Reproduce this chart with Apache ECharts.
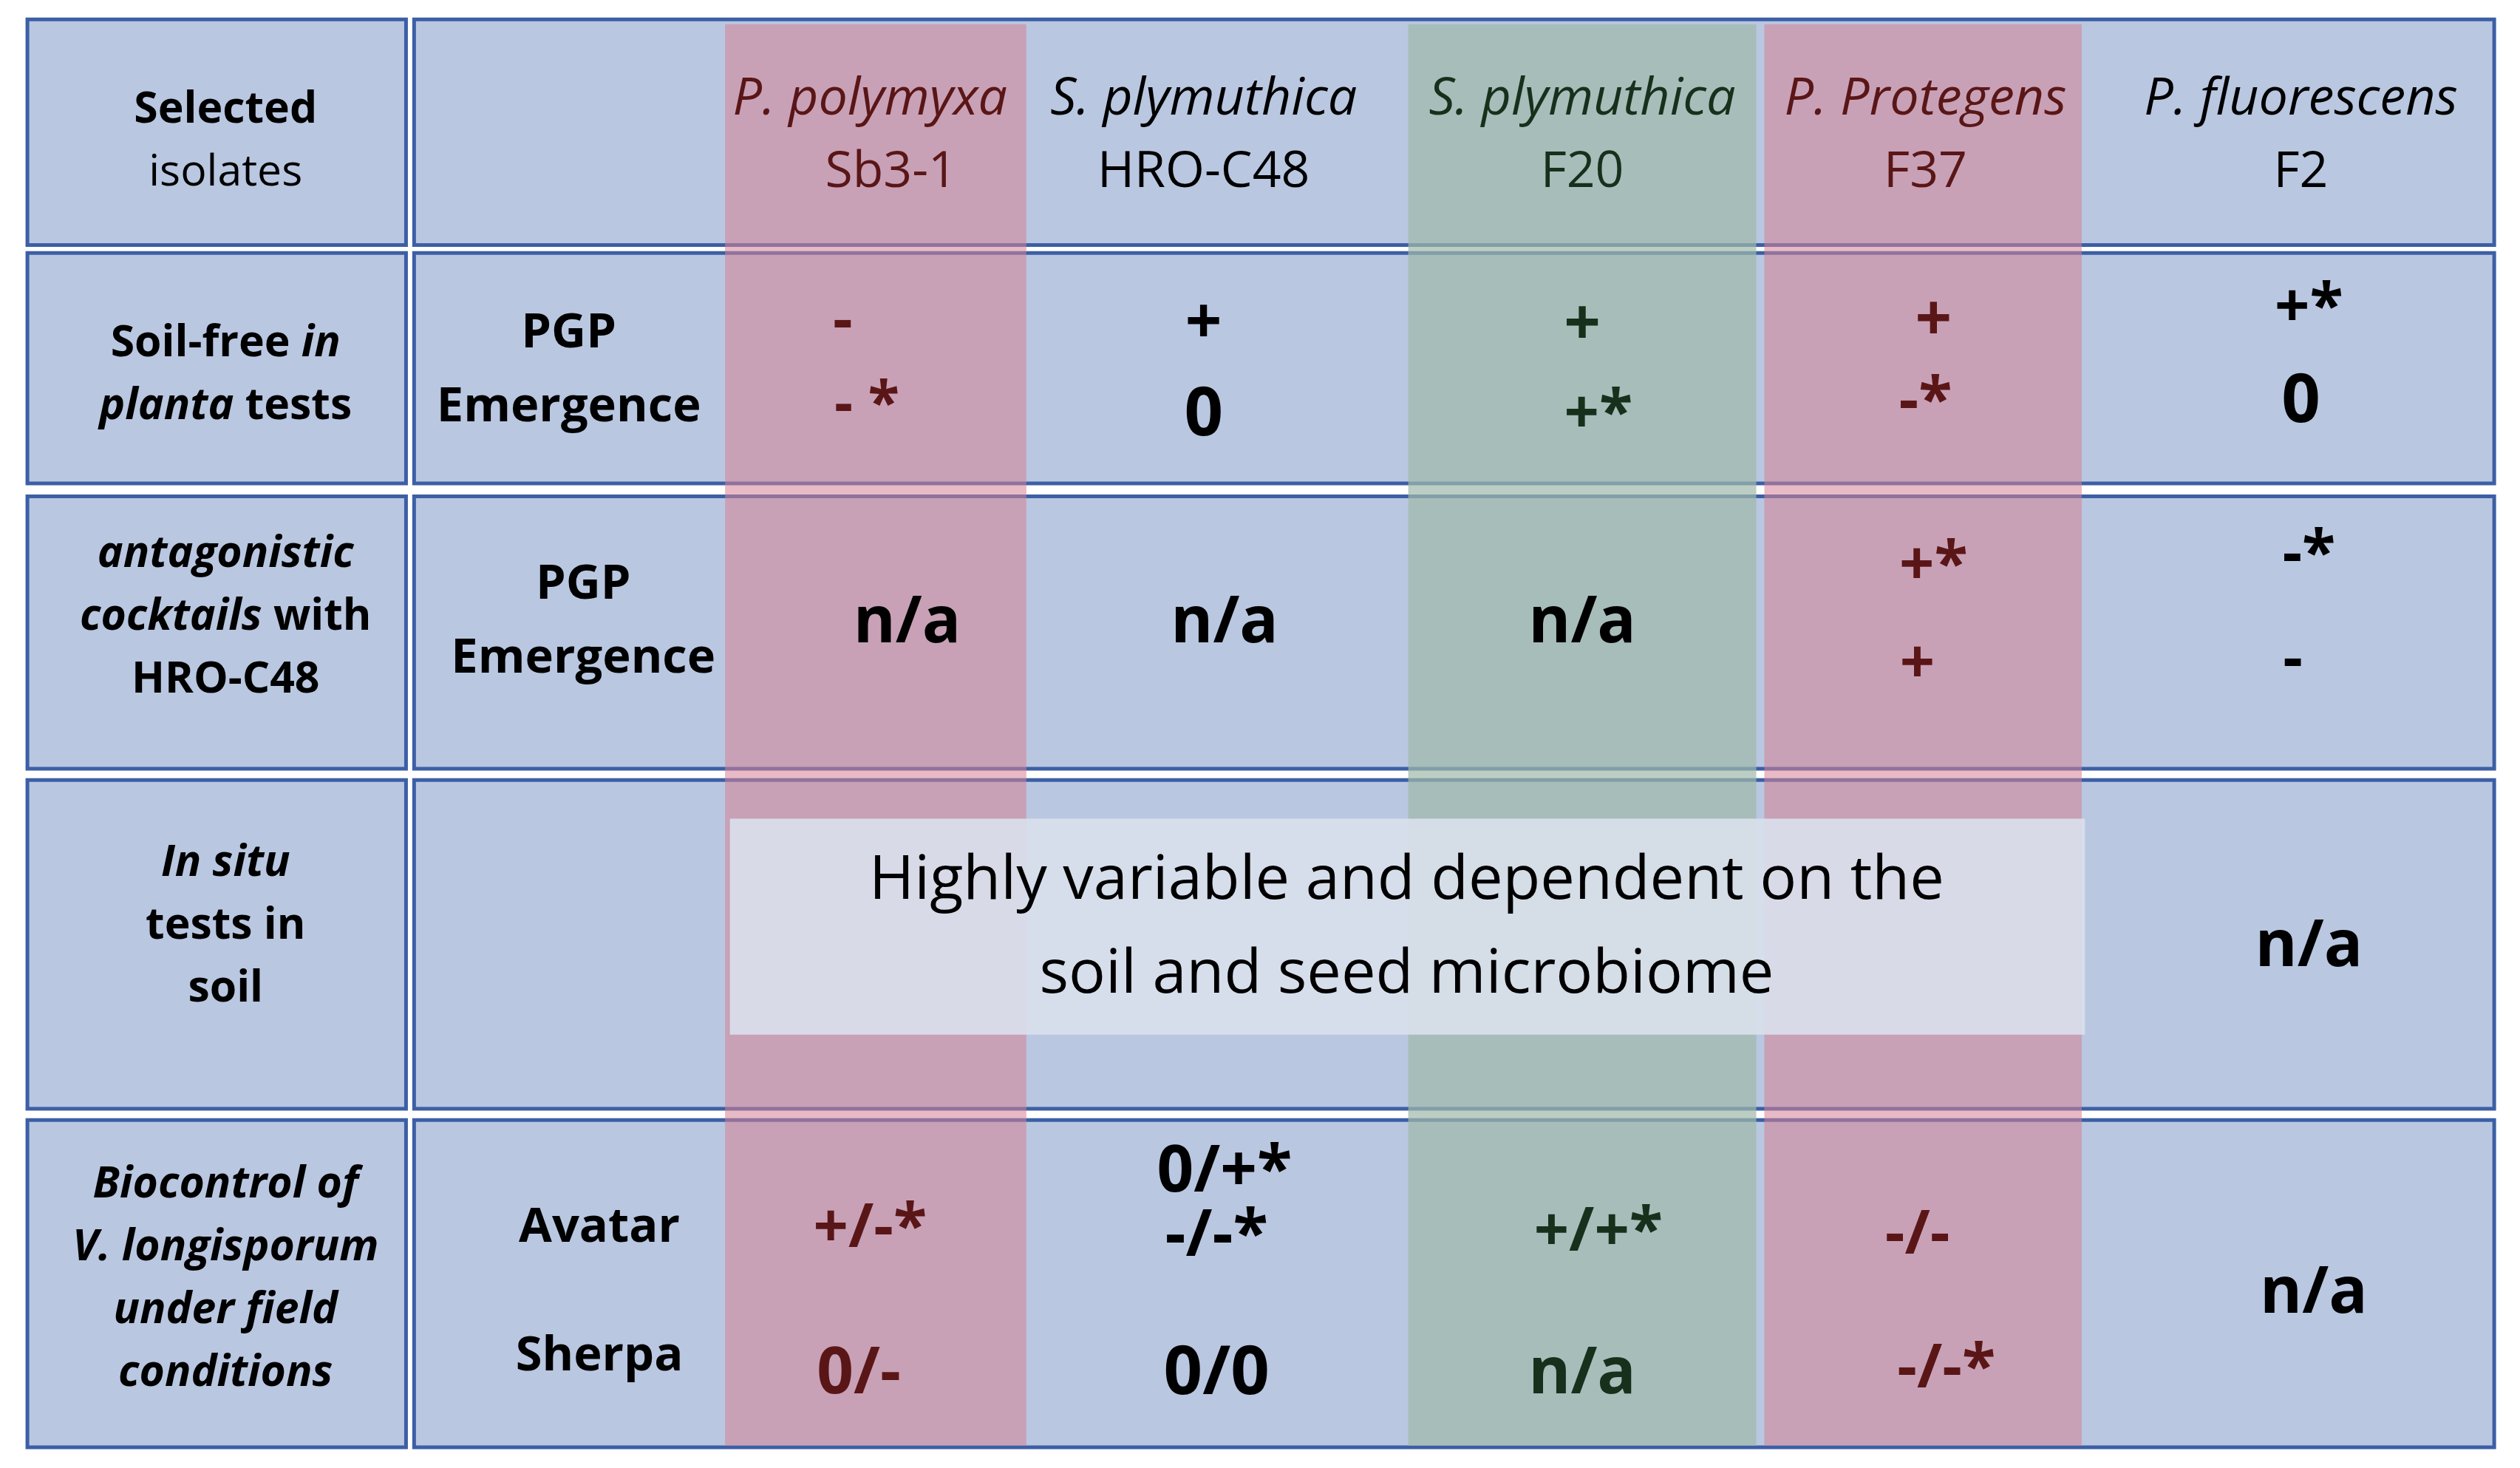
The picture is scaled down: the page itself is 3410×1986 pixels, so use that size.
<!DOCTYPE html>
<html><head><meta charset="utf-8">
<script src="https://cdn.jsdelivr.net/npm/echarts@6/dist/echarts.min.js"></script>
<style>html,body{margin:0;background:#fff}#c{width:3410px;height:1986px}</style>
</head><body><div id="c"></div>
<script>
// table content
var species = ['P. polymyxa', 'S. plymuthica', 'S. plymuthica', 'P. Protegens', 'P. fluorescens'];
var strains = ['Sb3-1', 'HRO-C48', 'F20', 'F37', 'F2'];
var colTint = ['pink', 'none', 'green', 'pink', 'none'];
var rowTitles = [
  '{b|Selected}\n{n|isolates}',
  '{b|Soil-free }{bi|in}\n{bi|planta}{b| tests}',
  '{bi|antagonistic}\n{bi|cocktails}{b| with}\n{b|HRO-C48}',
  '{bi|In situ}\n{b|tests in}\n{b|soil}',
  '{bi|Biocontrol of}\n{bi|V. longisporum}\n{bi|under field}\n{bi|conditions}'
];
var subLabels = [[], ['PGP', 'Emergence'], ['PGP', 'Emergence'], [], ['Avatar', 'Sherpa']];
// each cell: [col, text, y, size, x offset, black]
var cellsSoilFree = [[0,'-',200,38,-20],[0,'- *',252,36,-5],[1,'+',202,40,0],[1,'0',258,42,0],[2,'+',203,40,0],[2,'+*',258,38,10],
  [3,'+',200,40,5],[3,'-*',250,38,0],[4,'+*',192,38,5],[4,'0',250,42,0]];
var cellsCocktail = [[0,'n/a',387,40,20,1],[1,'n/a',387,40,13,1],[2,'n/a',387,40,0,1],[3,'+*',352,38,5],[3,'+',413,38,-5],[4,'-*',345,38,5],[4,'-',410,38,-5]];
var cellsInSitu = [[4,'n/a',588,40,5]];
var cellsField = [[0,'+/-*',763,38,-3],[0,'0/-',853,40,-10],[1,'0/+*',728,40,13],[1,'-/-*',768,40,8],[1,'0/0',853,42,8],
  [2,'+/+*',765,38,10],[2,'n/a',853,40,0],[3,'-/-',767,38,-5],[3,'-/-*',850,38,13],[4,'n/a',803,40,8]];
var inSituNote = 'Highly variable and dependent on the\nsoil and seed microbiome';

var s = 3410 / 1564;
var FONT = '"Open Sans", sans-serif';
var rows = [[12,152],[157,300],[308,477],[484,688],[695,898]];
var colX = [[450,637],[637,874],[874,1090],[1095,1292],[1292,1548]];
var colCx = [543,747,982,1195,1428];
var tintFill = {pink:'rgba(214,130,150,0.55)', green:'rgba(160,185,170,0.7)'};
var textCol = {pink:'#5a1616', green:'#16301c', none:'#000'};
var g = [];
function R(x0,y0,x1,y1,fill,stroke,z){g.push({type:'rect',z:z||1,shape:{x:x0*s,y:y0*s,width:(x1-x0)*s,height:(y1-y0)*s},
  style:{fill:fill,stroke:stroke||null,lineWidth:stroke?5:0}});}
function T(x,y,text,size,color,extra){var st={text:text,x:x*s,y:y*s,fill:color||'#000',font:(extra&&extra.italic?'italic ':'')+((extra&&extra.normal)?'':'bold ')+Math.round(size*s)+'px '+FONT,
  align:'center',verticalAlign:'middle',lineHeight:(extra&&extra.lh?extra.lh:size*1.3)*s};
  if(extra&&extra.rich)st.rich=extra.rich;g.push({type:'text',z:10,style:st});}

rows.forEach(function(r,i){
  R(17,r[0],252,r[1],'#b9c7e1','#3c5fa5',1);
  R(257,r[0],1548,r[1],'#b9c7e1','#3c5fa5',1);
});
colTint.forEach(function(t,i){ if(t!=='none') R(colX[i][0],15,colX[i][1],897,tintFill[t],null,3); });
// header
species.forEach(function(sp,i){
  T(colCx[i]-(i===0?3:0),62,sp,32,textCol[colTint[i]],{italic:true,normal:true});
  T(colCx[i]+(i===0?10:0),107,strains[i],31,textCol[colTint[i]],{normal:true});
});
// row titles
var rich={b:{fontWeight:'bold',fontSize:27*s,fontFamily:FONT,lineHeight:39*s},
  bi:{fontWeight:'bold',fontStyle:'italic',fontSize:27*s,fontFamily:FONT,lineHeight:39*s},
  n:{fontSize:27*s,fontFamily:FONT,lineHeight:39*s}};
var titleY=[88,233,383,575,794];
rowTitles.forEach(function(t,i){T(140,titleY[i],t,27,'#000',{rich:rich,lh:39});});
// sub labels
var subY=[[],[207,253],[363,409],[],[762,842]];
var subX=[0,353,362,0,372];
subLabels.forEach(function(l,i){l.forEach(function(txt,j){T(subX[i],subY[i][j],txt,30,'#000');});});
// cells
[cellsSoilFree,cellsCocktail,cellsInSitu,cellsField].forEach(function(set){
  set.forEach(function(c){T(colCx[c[0]]+(c[4]||0),c[2],c[1],c[3],c[5]?'#000':textCol[colTint[c[0]]]);});
});
// overlay note
R(453,508,1294,642,'rgba(218,224,236,0.9)',null,5);
T(873,576,inSituNote,38,'#000',{normal:true,lh:58});

var chart = echarts.init(document.getElementById('c'));
chart.setOption({animation:false,backgroundColor:'#fff',graphic:g});
</script></body></html>
